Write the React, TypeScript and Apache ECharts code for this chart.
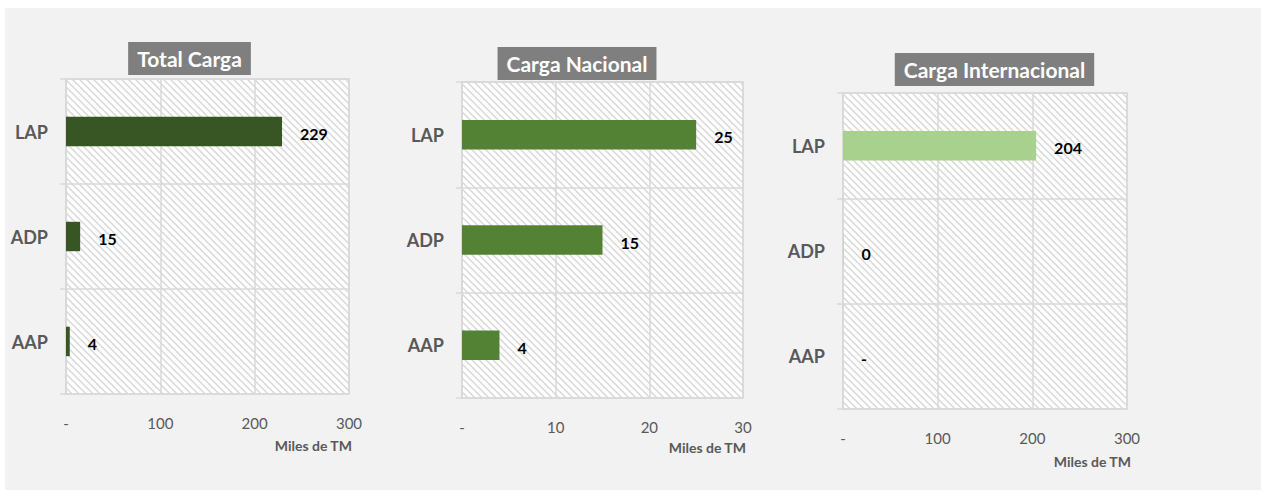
import React, { useEffect, useRef } from "react";
import * as echarts from "echarts";

const categories = ["LAP", "ADP", "AAP"];
const totalCarga = [229, 15, 4];
const cargaNacional = [25, 15, 4];
const cargaInternacional = [204, 0.4, 0];
const panelTitles = ["Total Carga", "Carga Nacional", "Carga Internacional"];
const axisMax = [300, 30, 300];
const axisInterval = [100, 10, 100];
const axisName = "Miles de TM";

const barColors = ["#375623", "#548235", "#a9d18e"];
const gridBoxes = [
  { left: 66, top: 79, width: 283, height: 315 },
  { left: 462, top: 82, width: 281, height: 316 },
  { left: 843, top: 93, width: 284, height: 316 },
];
const titleBoxes = [
  { x: 189.5, y: 42 },
  { x: 577, y: 47 },
  { x: 994.5, y: 53 },
];
const nameBoxes = [
  { x: 352, y: 438 },
  { x: 746, y: 440 },
  { x: 1131, y: 454 },
];

const FONT = "Lato, 'Open Sans', sans-serif";

function makeHatch(): string {
  const s = 7;
  const c = document.createElement("canvas");
  c.width = s;
  c.height = s;
  const ctx = c.getContext("2d")!;
  ctx.fillStyle = "#ffffff";
  ctx.fillRect(0, 0, s, s);
  const shades: Record<number, string> = { 0: "#d9d9d9", 1: "#e6e6e6", 6: "#eeeeee" };
  for (let x = 0; x < s; x++) {
    for (let y = 0; y < s; y++) {
      const k = (((x - y) % s) + s) % s;
      if (shades[k]) {
        ctx.fillStyle = shades[k];
        ctx.fillRect(x, y, 1, 1);
      }
    }
  }
  return c.toDataURL();
}

export default function App() {
  const ref = useRef<HTMLDivElement>(null);
  useEffect(() => {
    if (!ref.current) return;
    const chart = echarts.init(ref.current, null, { renderer: "svg" });
    const hatch = { image: makeHatch(), repeat: "repeat", imageWidth: 7, imageHeight: 7 };
    const seriesData = [totalCarga, cargaNacional, cargaInternacional];
    const fmtVal = (v: number) => (v === 0 ? "-" : String(Math.round(v)));

    chart.setOption({
      animation: false,
      backgroundColor: "transparent",
      grid: gridBoxes.map((g) => ({
        ...g,
        show: true,
        backgroundColor: hatch,
        borderColor: "#d9d9d9",
        borderWidth: 1.5,
        containLabel: false,
      })),
      xAxis: gridBoxes.map((_, i) => ({
        type: "value",
        gridIndex: i,
        min: 0,
        max: axisMax[i],
        interval: axisInterval[i],
        axisLine: { show: false },
        axisTick: { show: false },
        splitLine: { show: true, lineStyle: { color: "#d9d9d9", width: 1.5 } },
        axisLabel: {
          margin: 21,
          color: "#595959",
          fontSize: 15,
          fontFamily: FONT,
          formatter: (v: number) => (v === 0 ? "-" : String(v)),
        },
      })),
      yAxis: gridBoxes.map((_, i) => ({
        type: "category",
        gridIndex: i,
        data: categories,
        inverse: true,
        axisLine: { show: true, lineStyle: { color: "#d9d9d9", width: 1.5 } },
        axisTick: { show: true, length: 6, lineStyle: { color: "#d9d9d9", width: 1.5 } },
        splitLine: { show: true, lineStyle: { color: "#d9d9d9", width: 1.5 } },
        axisLabel: {
          margin: 18,
          color: "#595959",
          fontSize: 18,
          fontWeight: "bold",
          fontFamily: FONT,
        },
      })),
      series: seriesData.map((d, i) => ({
        type: "bar",
        xAxisIndex: i,
        yAxisIndex: i,
        data: d,
        barWidth: "28%",
        itemStyle: { color: barColors[i] },
        label: {
          show: true,
          position: "right",
          distance: 18,
          offset: [0, 2],
          color: "#000",
          fontSize: 16,
          fontWeight: "bold",
          fontFamily: FONT,
          formatter: (p: any) => fmtVal(p.value),
        },
      })),
      graphic: [
        ...titleBoxes.map((t, i) => ({
          type: "text",
          x: t.x,
          y: t.y,
          style: {
            text: panelTitles[i],
            fill: "#ffffff",
            font: `bold 21px ${FONT}`,
            backgroundColor: "#7f7f7f",
            padding: [5, 9, 5, 9],
            lineHeight: 23,
            align: "center",
            verticalAlign: "top",
          },
        })),
        ...nameBoxes.map((n) => ({
          type: "text",
          x: n.x,
          y: n.y,
          style: {
            text: axisName,
            fill: "#595959",
            font: `bold 14px ${FONT}`,
            align: "right",
            verticalAlign: "top",
          },
        })),
      ],
    });
    return () => chart.dispose();
  }, []);

  return (
    <div style={{ position: "fixed", left: 0, top: 0, width: 1261, height: 494, background: "#ffffff" }}>
      <div
        style={{ position: "absolute", left: 5, top: 8, width: 1256, height: 482, background: "#f2f2f2" }}
      />
      <div ref={ref} style={{ position: "absolute", left: 0, top: 0, width: 1261, height: 494 }} />
    </div>
  );
}
